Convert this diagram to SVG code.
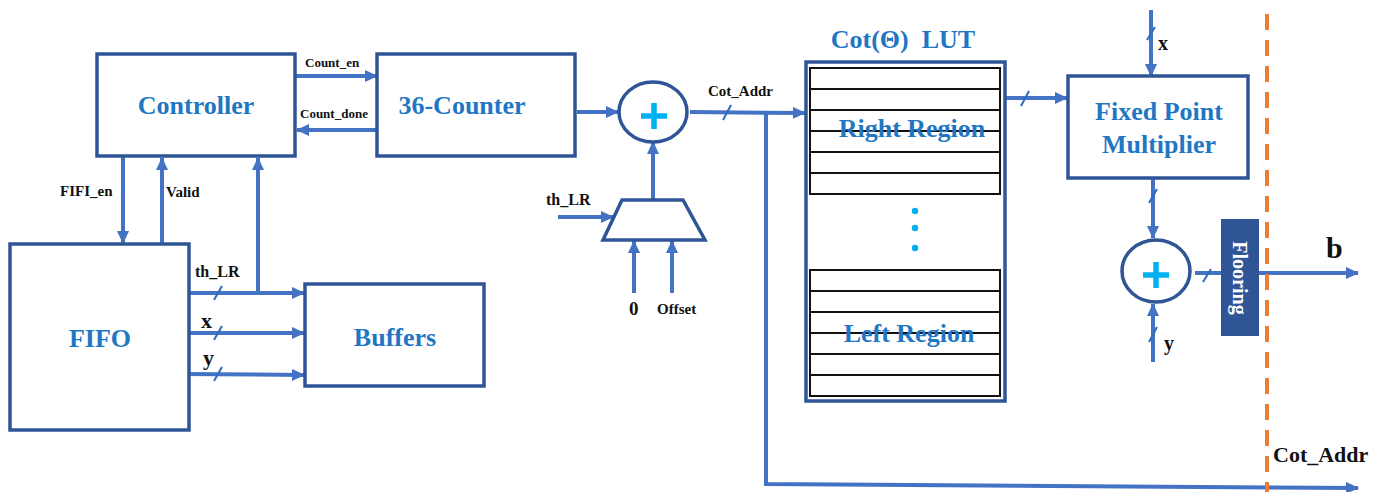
<svg xmlns="http://www.w3.org/2000/svg" width="1385" height="492" viewBox="0 0 1385 492">
<style>
.box{fill:#fff;stroke:#2F5597;stroke-width:3.5}
.w{fill:none;stroke:#4472C4;stroke-width:4}
.wa{fill:none;stroke:#4472C4;stroke-width:4;marker-end:url(#ah)}
.sl{stroke:#2E6BC0;stroke-width:2}
.bt{font-family:"Liberation Serif",serif;font-weight:bold;fill:#1F77C4;font-size:26px;text-anchor:middle}
.lb{font-family:"Liberation Serif",serif;font-weight:bold;fill:#111;font-size:13px}
.row{fill:#fff;stroke:#111;stroke-width:2}
.plus{stroke:#00B0F0;stroke-width:5.5}
</style>
<defs>
<marker id="ah" markerUnits="userSpaceOnUse" markerWidth="13" markerHeight="12" refX="12" refY="6" orient="auto">
<path d="M0,0 L13,6 L0,12 z" fill="#4472C4"/>
</marker>
</defs>

<g id="connectors">
<line class="wa" x1="295" y1="76" x2="377" y2="76"/>
<line class="wa" x1="377" y1="130" x2="297" y2="130"/>
<line class="wa" x1="123" y1="157" x2="123" y2="243"/>
<line class="wa" x1="162" y1="243" x2="162" y2="158"/>
<line class="wa" x1="258" y1="293" x2="258" y2="158"/>
<line class="wa" x1="182" y1="293" x2="304" y2="293"/>
<line class="wa" x1="182" y1="333" x2="304" y2="333"/>
<line class="wa" x1="182" y1="374" x2="304" y2="375"/>
<line class="wa" x1="577" y1="112" x2="618" y2="112"/>
<line class="wa" x1="653" y1="200" x2="653" y2="142"/>
<line class="wa" x1="558" y1="217" x2="613" y2="217"/>
<line class="wa" x1="634" y1="293" x2="634" y2="241"/>
<line class="wa" x1="672" y1="293" x2="672" y2="241"/>
<line class="wa" x1="690" y1="112" x2="805" y2="113"/>
<path class="wa" d="M766,113 V484 L1358,488"/>
<line class="wa" x1="1006" y1="98" x2="1067" y2="98"/>
<line class="wa" x1="1151" y1="10" x2="1151" y2="76"/>
<line class="wa" x1="1153" y1="178" x2="1153" y2="238"/>
<line class="wa" x1="1153" y1="362" x2="1153" y2="304"/>
<line class="w" x1="1195" y1="273" x2="1221" y2="273"/>
<line class="wa" x1="1259" y1="273" x2="1358" y2="273"/>
<g>
<line class="sl" x1="214" y1="300" x2="222" y2="286"/>
<line class="sl" x1="214" y1="340" x2="222" y2="326"/>
<line class="sl" x1="214" y1="381" x2="222" y2="367"/>
<line class="sl" x1="723" y1="120" x2="731" y2="105"/>
<line class="sl" x1="1021" y1="106" x2="1029" y2="91"/>
<line class="sl" x1="1147" y1="40" x2="1155" y2="27"/>
<line class="sl" x1="1149" y1="203" x2="1157" y2="189"/>
<line class="sl" x1="1149" y1="342" x2="1157" y2="327"/>
<line class="sl" x1="1203" y1="282" x2="1211" y2="269"/>
</g>
<line x1="1267" y1="14" x2="1267" y2="492" stroke="#ED7D31" stroke-width="4" stroke-dasharray="16 10"/>
</g>

<g id="controller">
<rect class="box" x="97" y="54" width="198" height="102"/>
<text class="bt" x="196" y="114">Controller</text>
</g>
<g id="counter">
<rect class="box" x="377" y="54" width="198" height="102"/>
<text class="bt" x="462" y="114">36-Counter</text>
</g>
<g id="fifo">
<rect class="box" x="10" y="244" width="179" height="186"/>
<text class="bt" x="100" y="347">FIFO</text>
</g>
<g id="buffers">
<rect class="box" x="305" y="284" width="179" height="102"/>
<text class="bt" x="395" y="346">Buffers</text>
</g>
<g id="adder1">
<ellipse class="box" cx="653" cy="112" rx="34" ry="30"/>
<line class="plus" x1="641" y1="116" x2="667" y2="116"/>
<line class="plus" x1="654" y1="103" x2="654" y2="129"/>
</g>
<g id="mux">
<polygon class="box" points="622,200 683,200 705,240 603,240"/>
</g>
<g id="lut">
<rect class="box" x="806" y="62" width="199" height="339"/>
<rect class="row" x="810" y="68" width="190" height="21"/>
<rect class="row" x="810" y="89" width="190" height="21"/>
<rect class="row" x="810" y="110" width="190" height="21"/>
<rect class="row" x="810" y="131" width="190" height="21"/>
<rect class="row" x="810" y="152" width="190" height="21"/>
<rect class="row" x="810" y="173" width="190" height="21"/>
<rect class="row" x="810" y="270" width="190" height="21"/>
<rect class="row" x="810" y="291" width="190" height="21"/>
<rect class="row" x="810" y="312" width="190" height="21"/>
<rect class="row" x="810" y="333" width="190" height="21"/>
<rect class="row" x="810" y="354" width="190" height="21"/>
<rect class="row" x="810" y="375" width="190" height="21"/>
<text class="bt" x="912" y="137">Right Region</text>
<text class="bt" x="909" y="342">Left Region</text>
<circle cx="915" cy="211" r="3.2" fill="#00B0F0"/>
<circle cx="915" cy="228" r="3.2" fill="#00B0F0"/>
<circle cx="915" cy="248" r="3.2" fill="#00B0F0"/>
<text class="bt" x="903" y="48" style="white-space:pre" xml:space="preserve">Cot(Θ)  LUT</text>
</g>
<g id="multiplier">
<rect class="box" x="1068" y="76" width="180" height="102"/>
<text class="bt" x="1159" y="120">Fixed Point</text>
<text class="bt" x="1159" y="153">Multiplier</text>
</g>
<g id="adder2">
<ellipse class="box" cx="1156" cy="271" rx="34" ry="31"/>
<line class="plus" x1="1143" y1="275" x2="1169" y2="275"/>
<line class="plus" x1="1156" y1="262" x2="1156" y2="288"/>
</g>
<g id="flooring">
<rect x="1221" y="219" width="38" height="117" fill="#2F5597"/>
<text transform="translate(1240,278) rotate(90)" x="0" y="7" text-anchor="middle" font-family="Liberation Serif,serif" font-weight="bold" font-size="20" fill="#fff">Flooring</text>
</g>

<g id="labels">
<text class="lb" x="305" y="67">Count_en</text>
<text class="lb" x="300" y="118">Count_done</text>
<text class="lb" x="60" y="196" style="font-size:15px">FIFI_en</text>
<text class="lb" x="166" y="197" style="font-size:15px">Valid</text>
<text class="lb" x="195" y="277" style="font-size:16px">th_LR</text>
<text class="lb" x="201" y="328" style="font-size:22px">x</text>
<text class="lb" x="203" y="365" style="font-size:22px">y</text>
<text class="lb" x="546" y="205" style="font-size:16px">th_LR</text>
<text class="lb" x="629" y="315" style="font-size:19px">0</text>
<text class="lb" x="657" y="314" style="font-size:15px">Offset</text>
<text class="lb" x="708" y="96" style="font-size:15px">Cot_Addr</text>
<text class="lb" x="1158" y="50" style="font-size:20px">x</text>
<text class="lb" x="1164" y="350" style="font-size:20px">y</text>
<text class="lb" x="1326" y="258" style="font-size:30px">b</text>
<text class="lb" x="1273" y="462" style="font-size:22px">Cot_Addr</text>
</g>
</svg>
